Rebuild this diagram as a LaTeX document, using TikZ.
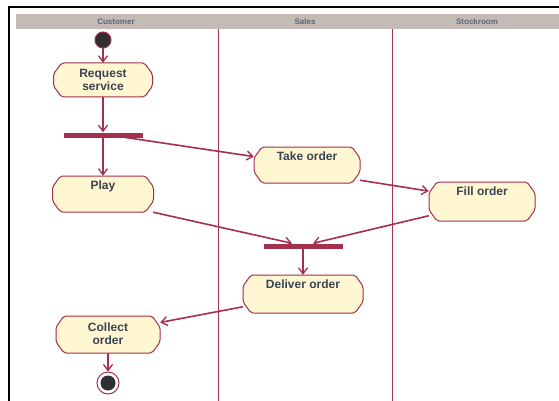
\documentclass[tikz,border=0pt]{standalone}
\usepackage{fontspec}
\setmainfont{Liberation Sans}
\usetikzlibrary{arrows.meta,calc}

\definecolor{crim}{HTML}{A3304C}
\definecolor{cream}{HTML}{FFF6D2}
\definecolor{lbltext}{HTML}{3B4354}
\definecolor{headbg}{HTML}{C4BAB6}
\definecolor{headtext}{HTML}{5E6576}
\definecolor{dot}{HTML}{2E2E33}

\tikzset{
  actshape/.style={draw=crim, fill=cream, line width=1pt, rounded corners=2pt},
  act/.style={rectangle, inner sep=0pt, text=lbltext,
    font=\bfseries\fontsize{12}{13.5}\selectfont, align=center},
  toptext/.style={label={[anchor=north,inner sep=0pt,yshift=-4.5pt,text=lbltext,
    font=\bfseries\fontsize{12}{13.5}\selectfont]north:#1}},
  bar/.style={rectangle, fill=crim, inner sep=0pt, minimum width=79pt,
    minimum height=5pt},
  flow/.style={draw=crim, line width=1.6pt,
    -{Straight Barb[length=6pt,width=9pt,line width=1.3pt]}},
  lane/.style={draw=crim, line width=0.9pt},
  headlbl/.style={text=headtext, font=\bfseries\fontsize{8}{9}\selectfont},
}

% action state: chamfered box outline, then a named node carrying the text
% #1 name, #2 x, #3 y, #4 width, #5 height, #6 node options, #7 text
\newcommand\actbox[7]{%
  \path[actshape]
    (#2-#4/2+8,#3-#5/2) -- (#2+#4/2-8,#3-#5/2) -- (#2+#4/2,#3-#5/2+11)
    -- (#2+#4/2,#3+#5/2-11) -- (#2+#4/2-8,#3+#5/2) -- (#2-#4/2+8,#3+#5/2)
    -- (#2-#4/2,#3+#5/2-11) -- (#2-#4/2,#3-#5/2+11) -- cycle;
  \node[act, minimum width=#4pt, minimum height=#5pt, #6] (#1) at (#2,#3) {#7};
}

\begin{document}
\begin{tikzpicture}[x=1pt,y=-1pt]
  \useasboundingbox (0,0) rectangle (559,401);
  \fill[white] (0,0) rectangle (559,401);

  % frame and swimlane header
  \draw[line width=2pt] (9,401) -- (9,7) -- (559,7);
  \fill[headbg] (16,14) rectangle (559,29);
  \node[headlbl] (hcust) at (116,21.5) {Customer};
  \node[headlbl] (hsales) at (305,21.5) {Sales};
  \node[headlbl] (hstock) at (477,21.5) {Stockroom};
  \draw[lane] (218,29) -- (218,401);
  \draw[lane] (392,29) -- (392,401);

  % start and end
  \node[circle, fill=dot, draw=crim, line width=1pt, minimum size=16pt,
    inner sep=0pt] (start) at (103,40) {};
  \node[circle, draw=crim, fill=white, line width=1pt, minimum size=22pt,
    inner sep=0pt] (finish) at (108,383) {};
  \node[circle, fill=dot, minimum size=15pt, inner sep=0pt] (finishdot)
    at (finish) {};

  % actions
  \actbox{req}{103}{80}{99}{34}{}{Request\\service}
  \actbox{play}{103}{194}{101}{36}{toptext=Play}{}
  \actbox{take}{307}{165}{106}{36}{toptext=Take order}{}
  \actbox{fill}{482}{201.5}{106}{39}{toptext=Fill order}{}
  \actbox{deliver}{303}{294}{120}{38}{toptext=Deliver order}{}
  \actbox{collect}{108}{334.5}{104}{37}{}{\raisebox{2.5pt}{\shortstack{Collect\\[1pt]order}}}

  % fork and join bars
  \node[bar] (fork) at (103,135) {};
  \node[bar] (join) at (303,246) {};

  % flows
  \draw[flow] (start) -- (req);
  \draw[flow] (req) -- (fork.north);
  \draw[flow] (fork.south) -- (play.north);
  \draw[flow] ($(fork.center)+(6,0)$) -- (take.171);
  \draw[flow] (take.-16) -- (fill.169);
  \draw[flow] (play.-20) -- ($(join.north)+(-11,0)$);
  \draw[flow] (fill.195) -- ($(join.north)+(10,0)$);
  \draw[flow] (join.south) -- (deliver.north);
  \draw[flow] (deliver.192) -- (collect.13);
  \draw[flow] (collect.south) -- (finish.north);
\end{tikzpicture}
\end{document}
